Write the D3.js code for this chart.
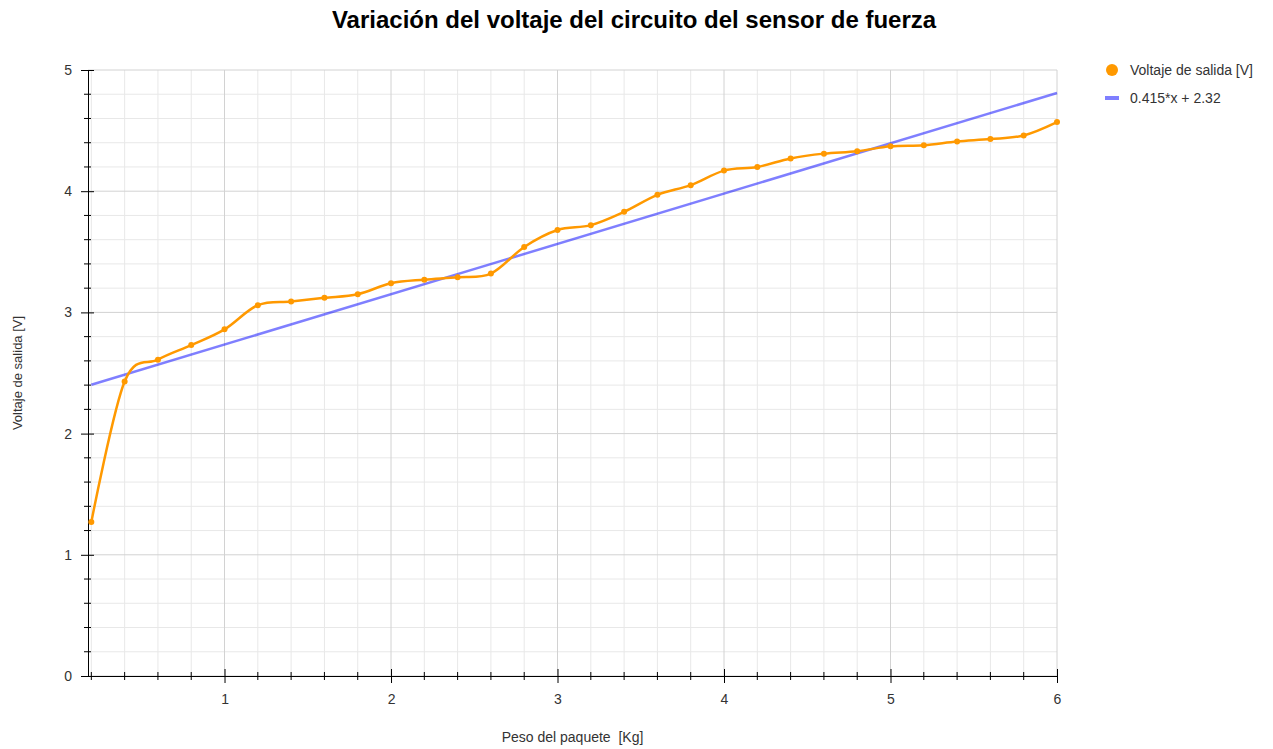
<!DOCTYPE html>
<html>
<head>
<meta charset="utf-8">
<script src="https://cdn.jsdelivr.net/npm/d3@7"></script>
<style>
  body { margin: 0; background: #fff; font-family: "Liberation Sans", Arial, sans-serif; }
  .axis text { font-size: 14px; fill: #333; font-family: "Liberation Sans", Arial, sans-serif; }
  .axis path, .axis line { stroke: #000; }
</style>
</head>
<body>
<div class="chart"></div>
<script>
// data
const PESO = [0.2, 0.4, 0.6, 0.8, 1.0, 1.2, 1.4, 1.6, 1.8, 2.0, 2.2, 2.4, 2.6, 2.8, 3.0,
              3.2, 3.4, 3.6, 3.8, 4.0, 4.2, 4.4, 4.6, 4.8, 5.0, 5.2, 5.4, 5.6, 5.8, 6.0];
const VOLTAJE = [1.27, 2.43, 2.61, 2.73, 2.86, 3.06, 3.09, 3.12, 3.15, 3.24, 3.27, 3.29, 3.32, 3.54, 3.68,
                 3.72, 3.83, 3.97, 4.05, 4.17, 4.20, 4.27, 4.31, 4.33, 4.37, 4.38, 4.41, 4.43, 4.46, 4.57];
const FIT_SLOPE = 0.415;
const FIT_INTERCEPT = 2.32;
const X_MAJOR = [1, 2, 3, 4, 5, 6];
const Y_MAJOR = [0, 1, 2, 3, 4, 5];
const LEGEND = ["Voltaje de salida [V]", "0.415*x + 2.32"];

const W = 1273, H = 749;
const mLeft = 88, mRight = 1057, mTop = 70, mBottom = 676;

const svg = d3.select(".chart").append("svg").attr("width", W).attr("height", H);

const x = d3.scaleLinear().domain([0.18, 6]).range([mLeft, mRight]);
const y = d3.scaleLinear().domain([0, 5]).range([mBottom, mTop]);

// minor ticks every 0.2
const xMinor = d3.range(1, 31).map(d => d / 5).filter(d => !X_MAJOR.includes(d));
const yMinor = d3.range(1, 25).map(d => d / 5).filter(d => !Y_MAJOR.includes(d));

// grid
const grid = svg.append("g").attr("class", "grid");
grid.selectAll(".xmin").data(xMinor).join("line").attr("class", "xmin")
  .attr("x1", d => x(d)).attr("x2", d => x(d)).attr("y1", mTop).attr("y2", mBottom)
  .attr("stroke", "#e8e8e8");
grid.selectAll(".ymin").data(yMinor).join("line").attr("class", "ymin")
  .attr("y1", d => y(d)).attr("y2", d => y(d)).attr("x1", mLeft).attr("x2", mRight)
  .attr("stroke", "#e8e8e8");
grid.selectAll(".xmaj").data(X_MAJOR).join("line").attr("class", "xmaj")
  .attr("x1", d => x(d)).attr("x2", d => x(d)).attr("y1", mTop).attr("y2", mBottom)
  .attr("stroke", "#d2d2d2");
grid.selectAll(".ymaj").data(Y_MAJOR).join("line").attr("class", "ymaj")
  .attr("y1", d => y(d)).attr("y2", d => y(d)).attr("x1", mLeft).attr("x2", mRight)
  .attr("stroke", "#d2d2d2");

// axes
const xAxis = svg.append("g").attr("class", "axis")
  .attr("transform", `translate(0,${mBottom})`)
  .call(d3.axisBottom(x).tickValues(X_MAJOR).tickFormat(d3.format("d")).tickSizeOuter(0).tickPadding(12));
xAxis.selectAll(".tick line").attr("y1", -7).attr("y2", 7);
xAxis.selectAll(".minor").data(xMinor).join("line").attr("class", "minor")
  .attr("x1", d => x(d)).attr("x2", d => x(d)).attr("y1", -4).attr("y2", 4)
  .attr("stroke", "#000");

const yAxis = svg.append("g").attr("class", "axis")
  .attr("transform", `translate(${mLeft},0)`)
  .call(d3.axisLeft(y).tickValues(Y_MAJOR).tickFormat(d3.format("d")).tickSizeOuter(0).tickPadding(10));
yAxis.selectAll(".tick line").attr("x1", -7).attr("x2", 6);
yAxis.selectAll(".minor").data(yMinor).join("line").attr("class", "minor")
  .attr("y1", d => y(d)).attr("y2", d => y(d)).attr("x1", -4).attr("x2", 3)
  .attr("stroke", "#000");

// regression line
const fitLine = d3.line().x(d => x(d)).y(d => y(FIT_SLOPE * d + FIT_INTERCEPT));
svg.append("path").datum([PESO[0], PESO[PESO.length - 1]])
  .attr("d", fitLine).attr("fill", "none")
  .attr("stroke", "rgba(0,0,255,0.5)").attr("stroke-width", 2.5);

// measured series
const data = PESO.map((p, i) => ({ p: p, v: VOLTAJE[i] }));
const curve = d3.line().x(d => x(d.p)).y(d => y(d.v)).curve(d3.curveCardinal.tension(0));
svg.append("path").datum(data).attr("d", curve).attr("fill", "none")
  .attr("stroke", "#ff9900").attr("stroke-width", 2.5);
svg.append("g").selectAll("circle").data(data).join("circle")
  .attr("cx", d => x(d.p)).attr("cy", d => y(d.v)).attr("r", 3)
  .attr("fill", "#ff9900");

// title & axis labels
svg.append("text").attr("x", 634).attr("y", 28).attr("text-anchor", "middle")
  .attr("font-size", 24).attr("font-weight", "bold").attr("fill", "#000")
  .text("Variación del voltaje del circuito del sensor de fuerza");
svg.append("text").attr("x", (mLeft + mRight) / 2).attr("y", 742).attr("text-anchor", "middle")
  .attr("font-size", 14).attr("fill", "#333").style("white-space", "pre")
  .text("Peso del paquete  [Kg]");
svg.append("text").attr("transform", `translate(22,${(mTop + mBottom) / 2}) rotate(-90)`)
  .attr("text-anchor", "middle").attr("font-size", 13).attr("fill", "#333")
  .text("Voltaje de salida [V]");

// legend
const lg = svg.append("g").attr("font-size", 14).attr("fill", "#333");
lg.append("circle").attr("cx", 1112).attr("cy", 70).attr("r", 6).attr("fill", "#ff9900");
lg.append("text").attr("x", 1130).attr("y", 75).text(LEGEND[0]);
lg.append("line").attr("x1", 1105).attr("x2", 1119).attr("y1", 98).attr("y2", 98)
  .attr("stroke", "rgba(0,0,255,0.5)").attr("stroke-width", 4);
lg.append("text").attr("x", 1130).attr("y", 103).text(LEGEND[1]);
</script>
</body>
</html>
